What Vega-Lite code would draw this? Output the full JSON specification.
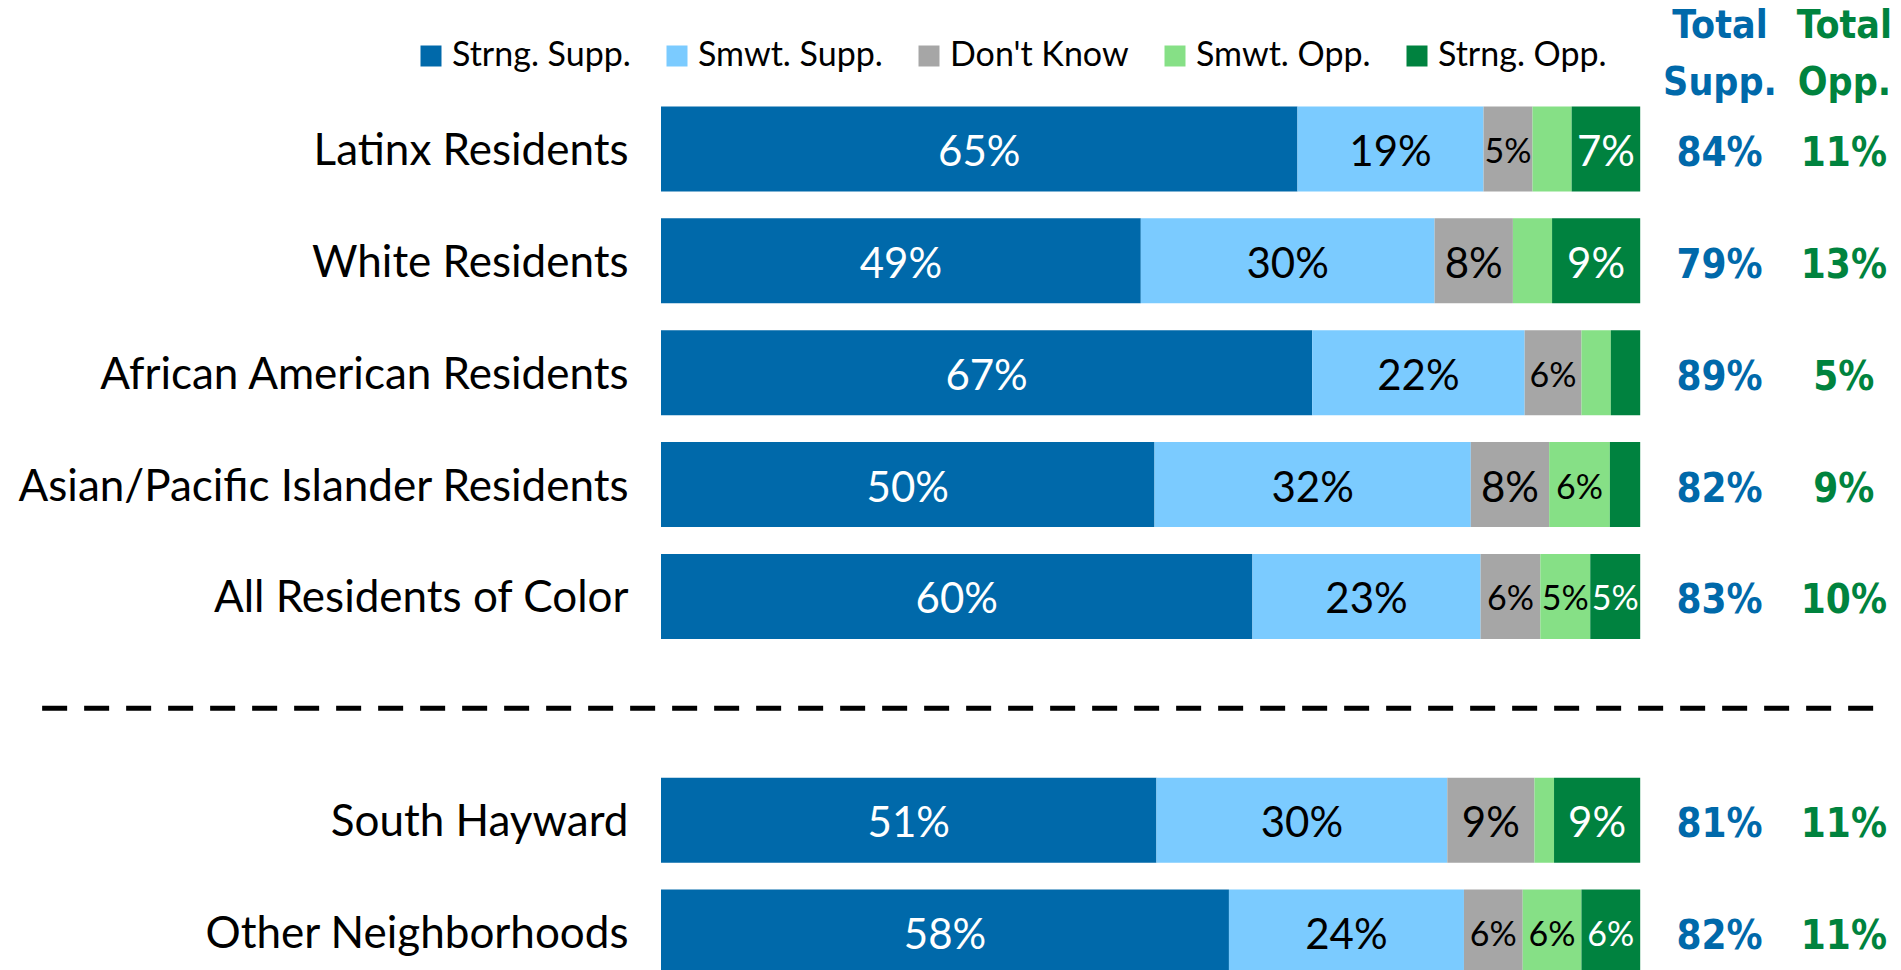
{
  "$schema": "https://vega.github.io/schema/vega-lite/v6.json",
  "width": 1224,
  "height": 895,
  "autosize": {"type": "none"},
  "padding": {"left": 661, "top": 93, "right": 16, "bottom": 0},
  "background": "white",
  "config": {"view": {"stroke": null}},
  "datasets": {
    "responses": [
      {"group": "Latinx Residents", "response": "Strng. Supp.", "value": 65},
      {"group": "Latinx Residents", "response": "Smwt. Supp.", "value": 19},
      {"group": "Latinx Residents", "response": "Don't Know", "value": 5},
      {"group": "Latinx Residents", "response": "Smwt. Opp.", "value": 4},
      {"group": "Latinx Residents", "response": "Strng. Opp.", "value": 7},
      {"group": "White Residents", "response": "Strng. Supp.", "value": 49},
      {"group": "White Residents", "response": "Smwt. Supp.", "value": 30},
      {"group": "White Residents", "response": "Don't Know", "value": 8},
      {"group": "White Residents", "response": "Smwt. Opp.", "value": 4},
      {"group": "White Residents", "response": "Strng. Opp.", "value": 9},
      {"group": "African American Residents", "response": "Strng. Supp.", "value": 66.5},
      {"group": "African American Residents", "response": "Smwt. Supp.", "value": 21.7},
      {"group": "African American Residents", "response": "Don't Know", "value": 5.8},
      {"group": "African American Residents", "response": "Smwt. Opp.", "value": 3.0},
      {"group": "African American Residents", "response": "Strng. Opp.", "value": 3.0},
      {"group": "Asian/Pacific Islander Residents", "response": "Strng. Supp.", "value": 50.4},
      {"group": "Asian/Pacific Islander Residents", "response": "Smwt. Supp.", "value": 32.3},
      {"group": "Asian/Pacific Islander Residents", "response": "Don't Know", "value": 8.0},
      {"group": "Asian/Pacific Islander Residents", "response": "Smwt. Opp.", "value": 6.2},
      {"group": "Asian/Pacific Islander Residents", "response": "Strng. Opp.", "value": 3.1},
      {"group": "All Residents of Color", "response": "Strng. Supp.", "value": 60.4},
      {"group": "All Residents of Color", "response": "Smwt. Supp.", "value": 23.3},
      {"group": "All Residents of Color", "response": "Don't Know", "value": 6.1},
      {"group": "All Residents of Color", "response": "Smwt. Opp.", "value": 5.1},
      {"group": "All Residents of Color", "response": "Strng. Opp.", "value": 5.1},
      {"group": "South Hayward", "response": "Strng. Supp.", "value": 50.6},
      {"group": "South Hayward", "response": "Smwt. Supp.", "value": 29.7},
      {"group": "South Hayward", "response": "Don't Know", "value": 8.9},
      {"group": "South Hayward", "response": "Smwt. Opp.", "value": 2.0},
      {"group": "South Hayward", "response": "Strng. Opp.", "value": 8.8},
      {"group": "Other Neighborhoods", "response": "Strng. Supp.", "value": 58},
      {"group": "Other Neighborhoods", "response": "Smwt. Supp.", "value": 24},
      {"group": "Other Neighborhoods", "response": "Don't Know", "value": 6},
      {"group": "Other Neighborhoods", "response": "Smwt. Opp.", "value": 6},
      {"group": "Other Neighborhoods", "response": "Strng. Opp.", "value": 6}
    ],
    "totals": [
      {"group": "Latinx Residents", "supp": "84%", "opp": "11%"},
      {"group": "White Residents", "supp": "79%", "opp": "13%"},
      {"group": "African American Residents", "supp": "89%", "opp": "5%"},
      {"group": "Asian/Pacific Islander Residents", "supp": "82%", "opp": "9%"},
      {"group": "All Residents of Color", "supp": "83%", "opp": "10%"},
      {"group": "South Hayward", "supp": "81%", "opp": "11%"},
      {"group": "Other Neighborhoods", "supp": "82%", "opp": "11%"}
    ]
  },
  "layer": [
    {
      "data": {"name": "responses"},
      "transform": [
        {"calculate": "indexof(['Strng. Supp.','Smwt. Supp.','Don\\'t Know','Smwt. Opp.','Strng. Opp.'], datum.response)", "as": "idx"},
        {"stack": "value", "groupby": ["group"], "sort": [{"field": "idx", "order": "ascending"}], "as": ["x0", "x1"]}
      ],
      "mark": {"type": "bar", "stroke": null},
      "encoding": {
        "x": {
          "field": "x0", "type": "quantitative",
          "scale": {"domain": [0, 125], "nice": false, "zero": false},
          "title": null,
          "axis": {
            "orient": "top", "values": [108.1, 120.8],
            "labelExpr": "datum.value < 115 ? ['Total','Supp.'] : ['Total','Opp.']",
            "labelColor": {"condition": {"test": "datum.value < 115", "value": "#0069AA"}, "value": "#00833E"},
            "labelFont": "DejaVu Sans Condensed", "labelFontWeight": "bold", "labelFontSize": 39,
            "labelLineHeight": 57, "labelBaseline": "bottom", "labelPadding": 48,
            "labelAlign": "center", "labelAngle": 0, "labelFlush": false, "labelOverlap": false,
            "ticks": false, "tickSize": 0, "domain": false, "grid": false
          }
        },
        "x2": {"field": "x1"},
        "y": {
          "field": "group", "type": "nominal", "title": null,
          "scale": {
            "domain": ["Latinx Residents", "White Residents", "African American Residents", "Asian/Pacific Islander Residents", "All Residents of Color", " ", "South Hayward", "Other Neighborhoods"],
            "paddingInner": 0.241, "paddingOuter": 0.1205
          },
          "axis": {
            "labelFont": "Lato", "labelFontSize": 44, "labelColor": "black", "labelOffset": 3,
            "labelPadding": 33, "labelLimit": 1000, "ticks": false, "tickSize": 0, "domain": false, "grid": false
          }
        },
        "color": {
          "field": "response", "type": "nominal",
          "scale": {
            "domain": ["Strng. Supp.", "Smwt. Supp.", "Don't Know", "Smwt. Opp.", "Strng. Opp."],
            "range": ["#0069AA", "#7BCBFF", "#A6A6A6", "#86E086", "#00823F"]
          },
          "legend": {
            "orient": "none", "legendX": -247, "legendY": -54, "direction": "horizontal",
            "title": null, "symbolType": "square", "symbolSize": 441, "symbolStrokeWidth": 0,
            "symbolOpacity": 1, "labelFont": "Lato", "labelFontSize": 34,
            "labelColor": "black", "labelOffset": 4, "columnPadding": 29, "padding": 0, "labelLimit": 1000
          }
        }
      }
    },
    {
      "data": {"name": "responses"},
      "transform": [
        {"calculate": "indexof(['Strng. Supp.','Smwt. Supp.','Don\\'t Know','Smwt. Opp.','Strng. Opp.'], datum.response)", "as": "idx"},
        {"stack": "value", "groupby": ["group"], "sort": [{"field": "idx", "order": "ascending"}], "as": ["x0", "x1"]},
        {"calculate": "(datum.x0 + datum.x1) / 2", "as": "mid"},
        {"calculate": "format(datum.value, '.0f') + '%'", "as": "label"},
        {"filter": "datum.value >= 4.5"}
      ],
      "mark": {"type": "text", "font": "Lato", "align": "center", "baseline": "middle", "dy": 4},
      "encoding": {
        "x": {"field": "mid", "type": "quantitative", "title": null},
        "y": {"field": "group", "type": "nominal", "title": null},
        "text": {"field": "label"},
        "color": {
          "condition": {"test": "datum.response === 'Strng. Supp.' || datum.response === 'Strng. Opp.'", "value": "white"},
          "value": "black"
        },
        "size": {
          "condition": {"test": "datum.value < 7", "value": 34},
          "value": 42
        }
      }
    },
    {
      "data": {"name": "totals"},
      "mark": {"type": "text", "font": "DejaVu Sans Condensed", "fontWeight": "bold", "fontSize": 40, "align": "center", "baseline": "middle", "color": "#0069AA", "dy": 5},
      "encoding": {
        "x": {"datum": 108.1, "title": null},
        "y": {"field": "group", "type": "nominal", "title": null},
        "text": {"field": "supp"}
      }
    },
    {
      "data": {"name": "totals"},
      "mark": {"type": "text", "font": "DejaVu Sans Condensed", "fontWeight": "bold", "fontSize": 40, "align": "center", "baseline": "middle", "color": "#00833E", "dy": 5},
      "encoding": {
        "x": {"datum": 120.8, "title": null},
        "y": {"field": "group", "type": "nominal", "title": null},
        "text": {"field": "opp"}
      }
    },
    {
      "data": {"values": [{"kind": "separator"}]},
      "mark": {"type": "rule", "color": "black", "strokeWidth": 5, "strokeDash": [25, 17]},
      "encoding": {
        "x": {"datum": -63.2, "title": null},
        "x2": {"datum": 123.95},
        "y": {"datum": " ", "type": "nominal", "title": null}
      }
    }
  ]
}
